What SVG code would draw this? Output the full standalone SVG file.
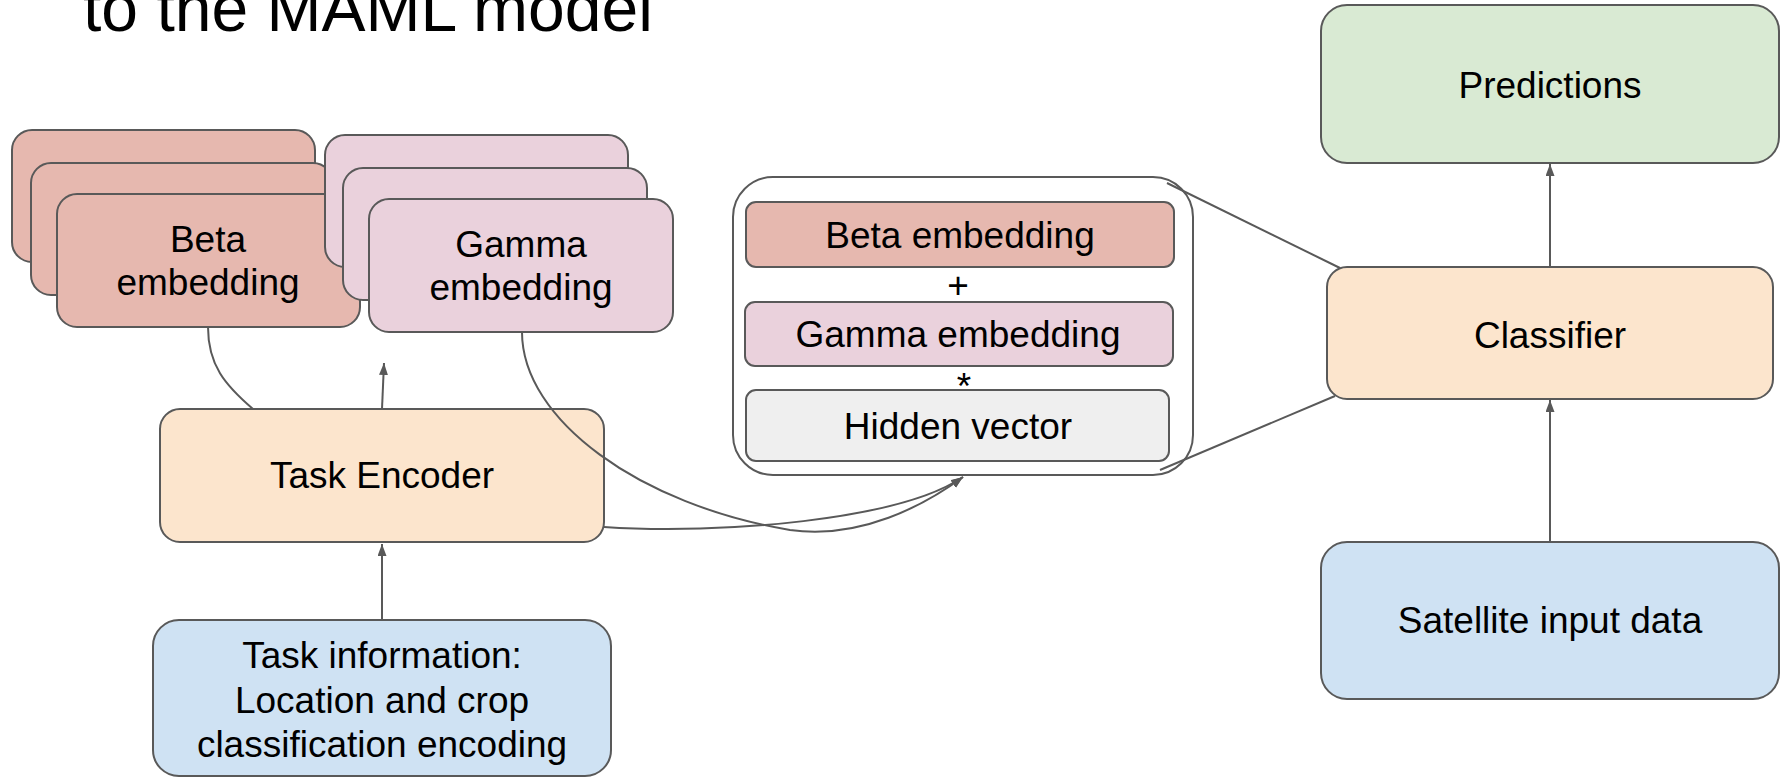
<svg xmlns="http://www.w3.org/2000/svg" width="1781" height="777" viewBox="0 0 1781 777">
  <style>
    .box { stroke: #595959; stroke-width: 2; }
    .beta { fill: #e6b8af; }
    .gamma { fill: #ead1dc; }
    .orange { fill: #fce5cd; }
    .blue { fill: #cfe2f3; }
    .green { fill: #d9ead3; }
    .grey { fill: #efefef; }
    .white { fill: #ffffff; }
    text { font-family: "Liberation Sans", Arial, sans-serif; font-size: 37px; fill: #000000; text-anchor: middle; }
    .title { font-size: 66px; text-anchor: start; }
    .conn { fill: none; stroke: #595959; stroke-width: 2; }
  </style>
  <defs>
    <marker id="arrow" markerUnits="userSpaceOnUse" markerWidth="13" markerHeight="10" refX="12" refY="4.5" orient="auto">
      <path d="M0,0 L12,4.5 L0,9 z" fill="#595959"/>
    </marker>
  </defs>

  <rect width="1781" height="777" fill="#ffffff"/>

  <text class="title" x="83" y="31">to the MAML model</text>

  <!-- Beta embedding stack -->
  <g id="beta-stack">
    <rect class="box beta" x="12" y="130" width="303" height="132" rx="20"/>
    <rect class="box beta" x="31" y="163" width="302" height="132" rx="20"/>
    <rect class="box beta" x="57" y="194" width="303" height="133" rx="20"/>
    <text x="208" y="252">Beta</text>
    <text x="208" y="295">embedding</text>
  </g>

  <!-- Gamma embedding stack -->
  <g id="gamma-stack">
    <rect class="box gamma" x="325" y="135" width="303" height="132" rx="20"/>
    <rect class="box gamma" x="343" y="168" width="304" height="132" rx="20"/>
    <rect class="box gamma" x="369" y="199" width="304" height="133" rx="20"/>
    <text x="521" y="257">Gamma</text>
    <text x="521" y="300">embedding</text>
  </g>

  <g id="task-encoder">
    <rect class="box orange" x="160" y="409" width="444" height="133" rx="20"/>
    <text x="382" y="488">Task Encoder</text>
  </g>

  <g id="task-information">
    <rect class="box blue" x="153" y="620" width="458" height="156" rx="26"/>
    <text x="382" y="668">Task information:</text>
    <text x="382" y="713">Location and crop</text>
    <text x="382" y="757">classification encoding</text>
  </g>

  <!-- Combined embedding block -->
  <g id="maml-block">
    <rect class="box white" x="733" y="177" width="460" height="298" rx="40"/>
    <rect class="box beta" x="746" y="202" width="428" height="65" rx="10"/>
    <text x="960" y="248">Beta embedding</text>
    <text x="958" y="298">+</text>
    <rect class="box gamma" x="745" y="302" width="428" height="64" rx="10"/>
    <text x="958" y="347">Gamma embedding</text>
    <text x="964" y="399">*</text>
    <rect class="box grey" x="746" y="390" width="423" height="71" rx="10"/>
    <text x="958" y="439">Hidden vector</text>
  </g>

  <g id="predictions">
    <rect class="box green" x="1321" y="5" width="458" height="158" rx="26"/>
    <text x="1550" y="98">Predictions</text>
  </g>

  <g id="classifier">
    <rect class="box orange" x="1327" y="267" width="446" height="132" rx="20"/>
    <text x="1550" y="348">Classifier</text>
  </g>

  <g id="satellite-input">
    <rect class="box blue" x="1321" y="542" width="458" height="157" rx="26"/>
    <text x="1550" y="633">Satellite input data</text>
  </g>

  <g id="connectors">
    <path class="conn" d="M382,620 L382,544" marker-end="url(#arrow)"/>
    <path class="conn" d="M382,409 L384,363" marker-end="url(#arrow)"/>
    <path class="conn" d="M208,327 C208,365 225,385 253,409"/>
    <path class="conn" d="M522,332 C522,420 640,505 790,530 C860,540 925,505 963,477" marker-end="url(#arrow)"/>
    <path class="conn" d="M604,527 C720,535 900,520 963,477" marker-end="url(#arrow)"/>
    <path class="conn" d="M1167,183 L1340,268"/>
    <path class="conn" d="M1160,470 L1335,396"/>
    <path class="conn" d="M1550,267 L1550,164" marker-end="url(#arrow)"/>
    <path class="conn" d="M1550,542 L1550,400" marker-end="url(#arrow)"/>
  </g>
</svg>
